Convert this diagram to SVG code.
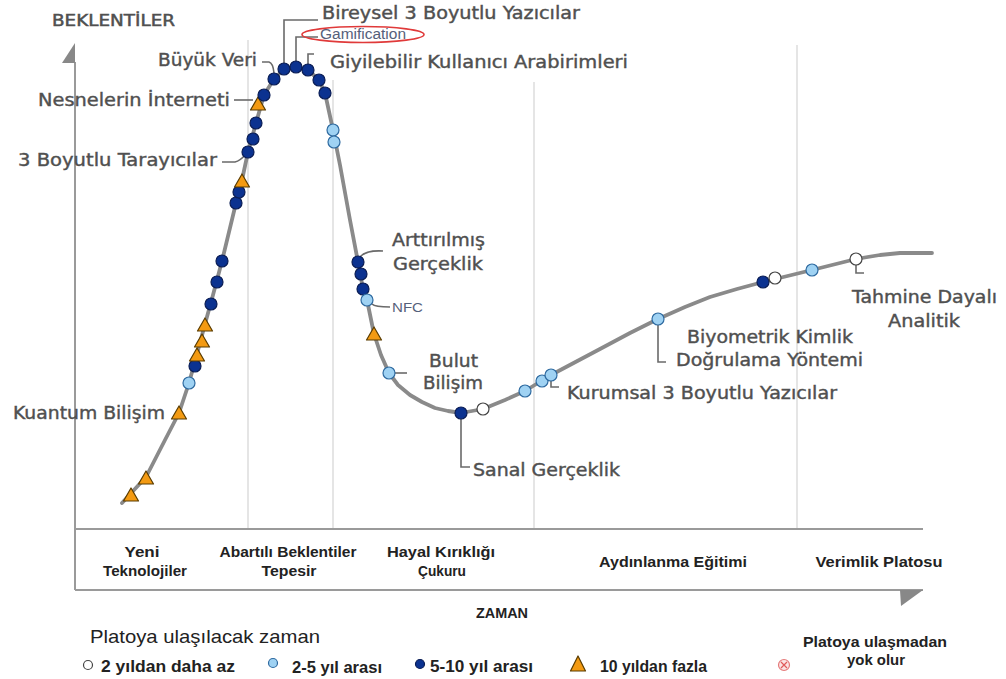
<svg xmlns="http://www.w3.org/2000/svg" width="1006" height="679" viewBox="0 0 1006 679">
<defs>
<style>
.grid{stroke:#dcdcdc;stroke-width:1.5;fill:none}
.axis{stroke:#9a9a9a;stroke-width:2;fill:none}
.curve{stroke:#8a8a8a;stroke-width:3.8;fill:none;stroke-linejoin:round;stroke-linecap:round}
.lead{stroke:#6a6a6a;stroke-width:1.6;fill:none}
.lbl{font-family:"DejaVu Sans",Verdana,sans-serif;font-size:17px;fill:#505050;stroke:#505050;stroke-width:0.4}
.sm{font-family:"Liberation Sans",Arial,sans-serif;font-size:14px;fill:#55607a}
.ph{font-family:"Liberation Sans",Arial,sans-serif;font-size:15px;font-weight:bold;fill:#222;text-anchor:middle}
.leg{font-family:"Liberation Sans",Arial,sans-serif;font-size:16px;font-weight:bold;fill:#222}
.w{fill:#fff;stroke:#444;stroke-width:1.2}
.lb{fill:#9fd2f3;stroke:#2e6aa0;stroke-width:1.2}
.db{fill:#0b3290;stroke:#0a1d55;stroke-width:1.2}
.tr{fill:#f39a12;stroke:#5a3c00;stroke-width:1.2;stroke-linejoin:round}
</style>
<circle id="mw" r="6" class="w"/>
<circle id="ml" r="6" class="lb"/>
<circle id="md" r="6" class="db"/>
<path id="mt" d="M0,-7 L7.5,6 L-7.5,6 Z" class="tr"/>
</defs>
<rect width="1006" height="679" fill="#fff"/>
<g id="grid">
<line x1="248" y1="40" x2="248" y2="529" class="grid"/>
<line x1="333" y1="80" x2="333" y2="529" class="grid"/>
<line x1="534" y1="82" x2="534" y2="529" class="grid"/>
<line x1="797" y1="45" x2="797" y2="529" class="grid"/>
</g>
<g id="axes">
<line x1="75" y1="62" x2="75" y2="590" class="axis"/>
<line x1="75" y1="529" x2="923" y2="529" class="axis"/>
<line x1="75" y1="590" x2="923" y2="590" class="axis"/>
<path d="M75,43 L75,63 L62,63 Z" fill="#888"/>
<path d="M900,590 L923,590 L901,606 Z" fill="#888"/>
<text x="52" y="26" class="lbl" style="font-size:15.5px;stroke-width:0.5" textLength="123" lengthAdjust="spacingAndGlyphs">BEKLENTİLER</text>
<text x="502" y="618" class="ph" textLength="52" lengthAdjust="spacingAndGlyphs">ZAMAN</text>
</g>
<g id="curve">
<path class="curve" d="M122,503 L146,477 L165,440 L179,413 L189,383 L197,354 L205,324 L213,295 L222,261 L236,203 L242,180 L248,152 L256,123 L264,95 L274,79 L284,69 L296,67 L308,70 L319,80 L325,93 L333,130 L340,165 L350,220 L358,262 L363,289 L367,300 L374,334 L381,355 L389,373 L398,385 L410,395 L422,402 L435,408 L448,411 L461,413 L483,409 L505,400 L525,391 L551,375 L600,349 L630,333 L658,319 L685,307 L710,297 L737,289 L763,282 L812,270 L856,259 L880,255 L900,253 L932,253"/>
</g>
<g id="connectors">
<path class="lead" d="M284,64 V20 H318"/>
<path class="lead" d="M296,62 V37 H318"/>
<path class="lead" d="M308,65 V54 H314"/>
<path class="lead" d="M262,62 H269 Q273,63 274,73"/>
<path class="lead" d="M234,100 H253"/>
<path class="lead" d="M222,162 H235 Q240,161 246,154"/>
<path class="lead" d="M360,257 Q366,250 383,251"/>
<path class="lead" d="M372,304 Q375,307 390,307"/>
<path class="lead" d="M395,373 H407"/>
<path class="lead" d="M461,419 V467 H470"/>
<path class="lead" d="M551,381 V387 H559"/>
<path class="lead" d="M658,325 V362 H666"/>
<path class="lead" d="M856,265 V273 H864"/>
</g>
<g id="markers">
<use href="#mt" x="131" y="495"/>
<use href="#mt" x="146" y="478"/>
<use href="#mt" x="179" y="413"/>
<use href="#ml" x="189" y="383"/>
<use href="#md" x="195" y="366"/>
<use href="#mt" x="197" y="355"/>
<use href="#mt" x="202" y="341"/>
<use href="#mt" x="205" y="325"/>
<use href="#md" x="211" y="304"/>
<use href="#md" x="217" y="282"/>
<use href="#md" x="222" y="261"/>
<use href="#md" x="236" y="203"/>
<use href="#md" x="239" y="192"/>
<use href="#mt" x="242" y="181"/>
<use href="#md" x="248" y="152"/>
<use href="#md" x="253" y="139"/>
<use href="#md" x="256" y="123"/>
<use href="#mt" x="258" y="104"/>
<use href="#md" x="264" y="95"/>
<use href="#md" x="274" y="79"/>
<use href="#md" x="284" y="69"/>
<use href="#md" x="296" y="67"/>
<use href="#md" x="308" y="70"/>
<use href="#md" x="319" y="80"/>
<use href="#md" x="325" y="93"/>
<use href="#ml" x="333" y="130"/>
<use href="#ml" x="334" y="142"/>
<use href="#md" x="358" y="262"/>
<use href="#md" x="361" y="274"/>
<use href="#md" x="363" y="289"/>
<use href="#ml" x="367" y="300"/>
<use href="#mt" x="374" y="334"/>
<use href="#ml" x="389" y="373"/>
<use href="#md" x="461" y="413"/>
<use href="#mw" x="483" y="409"/>
<use href="#ml" x="525" y="391"/>
<use href="#ml" x="542" y="381"/>
<use href="#ml" x="551" y="375"/>
<use href="#ml" x="658" y="319"/>
<use href="#md" x="763" y="282"/>
<use href="#mw" x="775" y="278"/>
<use href="#ml" x="812" y="270"/>
<use href="#mw" x="856" y="259"/>
</g>
<g id="labels">
<text x="322" y="19" class="lbl" textLength="258" lengthAdjust="spacingAndGlyphs">Bireysel 3 Boyutlu Yazıcılar</text>
<ellipse cx="363" cy="34.5" rx="61" ry="8" fill="none" stroke="#e03a3a" stroke-width="1.6"/>
<text x="320" y="39" class="sm" textLength="86" lengthAdjust="spacingAndGlyphs">Gamification</text>
<text x="330" y="68" class="lbl" textLength="298" lengthAdjust="spacingAndGlyphs">Giyilebilir Kullanıcı Arabirimleri</text>
<text x="158" y="66" class="lbl" textLength="99" lengthAdjust="spacingAndGlyphs">Büyük Veri</text>
<text x="38" y="106" class="lbl" textLength="192" lengthAdjust="spacingAndGlyphs">Nesnelerin İnterneti</text>
<text x="18" y="166" class="lbl" textLength="199" lengthAdjust="spacingAndGlyphs">3 Boyutlu Tarayıcılar</text>
<text x="13" y="419" class="lbl" textLength="152" lengthAdjust="spacingAndGlyphs">Kuantum Bilişim</text>
<text x="392" y="246" class="lbl" textLength="93" lengthAdjust="spacingAndGlyphs">Arttırılmış</text>
<text x="393" y="270" class="lbl" textLength="90" lengthAdjust="spacingAndGlyphs">Gerçeklik</text>
<text x="392" y="312" class="sm" style="font-size:13px" textLength="31" lengthAdjust="spacingAndGlyphs">NFC</text>
<text x="429" y="367" class="lbl" textLength="49" lengthAdjust="spacingAndGlyphs">Bulut</text>
<text x="423" y="389" class="lbl" textLength="60" lengthAdjust="spacingAndGlyphs">Bilişim</text>
<text x="473" y="476" class="lbl" textLength="147" lengthAdjust="spacingAndGlyphs">Sanal Gerçeklik</text>
<text x="567" y="399" class="lbl" textLength="270" lengthAdjust="spacingAndGlyphs">Kurumsal 3 Boyutlu Yazıcılar</text>
<text x="687" y="343" class="lbl" textLength="166" lengthAdjust="spacingAndGlyphs">Biyometrik Kimlik</text>
<text x="676" y="366" class="lbl" textLength="187" lengthAdjust="spacingAndGlyphs">Doğrulama Yöntemi</text>
<text x="852" y="303" class="lbl" textLength="145" lengthAdjust="spacingAndGlyphs">Tahmine Dayalı</text>
<text x="888" y="327" class="lbl" textLength="72" lengthAdjust="spacingAndGlyphs">Analitik</text>
</g>
<g id="phases">
<text x="142" y="557" class="ph" textLength="35" lengthAdjust="spacingAndGlyphs">Yeni</text>
<text x="145" y="576" class="ph" textLength="84" lengthAdjust="spacingAndGlyphs">Teknolojiler</text>
<text x="288" y="557" class="ph" textLength="137" lengthAdjust="spacingAndGlyphs">Abartılı Beklentiler</text>
<text x="289" y="576" class="ph" textLength="55" lengthAdjust="spacingAndGlyphs">Tepesir</text>
<text x="441" y="557" class="ph" textLength="108" lengthAdjust="spacingAndGlyphs">Hayal Kırıklığı</text>
<text x="442" y="576" class="ph" textLength="48" lengthAdjust="spacingAndGlyphs">Çukuru</text>
<text x="673" y="567" class="ph" textLength="148" lengthAdjust="spacingAndGlyphs">Aydınlanma Eğitimi</text>
<text x="879" y="567" class="ph" textLength="127" lengthAdjust="spacingAndGlyphs">Verimlik Platosu</text>
</g>
<g id="legend">
<text x="90" y="643" style="font-family:'Liberation Sans',Arial,sans-serif;font-size:18.5px;fill:#222" textLength="230" lengthAdjust="spacingAndGlyphs">Platoya ulaşılacak zaman</text>
<circle cx="88" cy="665" r="4.5" class="w"/>
<text x="101" y="672" class="leg" textLength="134" lengthAdjust="spacingAndGlyphs">2 yıldan daha az</text>
<circle cx="273" cy="663" r="4.5" class="lb"/>
<text x="292" y="673" class="leg" textLength="90" lengthAdjust="spacingAndGlyphs">2-5 yıl arası</text>
<circle cx="420" cy="664" r="4.5" class="db"/>
<text x="430" y="672" class="leg" textLength="103" lengthAdjust="spacingAndGlyphs">5-10 yıl arası</text>
<path d="M578,656 L585.5,671 L570.5,671 Z" class="tr"/>
<text x="600" y="672" class="leg" textLength="107" lengthAdjust="spacingAndGlyphs">10 yıldan fazla</text>
<circle cx="784" cy="665" r="5.5" fill="#fbe3e3" stroke="#e57b7b" stroke-width="1.2"/>
<path d="M781,662 L787,668 M787,662 L781,668" stroke="#e05a5a" stroke-width="1.2"/>
<text x="875" y="647" class="leg" text-anchor="middle" style="font-size:15px" textLength="144" lengthAdjust="spacingAndGlyphs">Platoya ulaşmadan</text>
<text x="876" y="665" class="leg" text-anchor="middle" style="font-size:15px" textLength="58" lengthAdjust="spacingAndGlyphs">yok olur</text>
</g>
</svg>
